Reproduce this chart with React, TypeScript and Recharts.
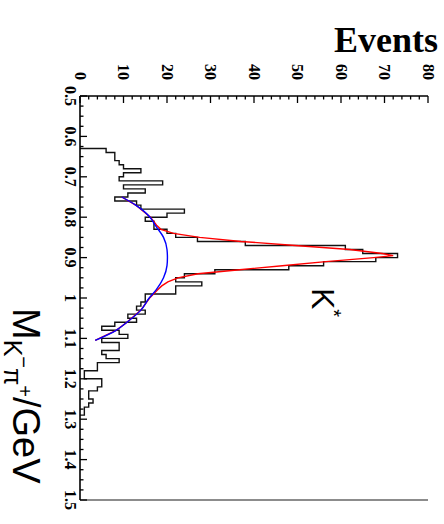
import { ComposedChart, Customized, Line, ReferenceLine, XAxis, YAxis } from 'recharts'

// K pi invariant mass, 10 MeV bins (lower edges) and entries per bin
const binLow = [
  0.63, 0.64, 0.65, 0.66, 0.67, 0.68, 0.69, 0.7, 0.71, 0.72, 0.73, 0.74, 0.75, 0.76, 0.77, 0.78,
  0.79, 0.8, 0.81, 0.82, 0.83, 0.84, 0.85, 0.86, 0.87, 0.88, 0.89, 0.9, 0.91, 0.92, 0.93, 0.94,
  0.95, 0.96, 0.97, 0.98, 0.99, 1.0, 1.01, 1.02, 1.03, 1.04, 1.05, 1.06, 1.07, 1.08, 1.09, 1.1,
  1.11, 1.12, 1.13, 1.14, 1.15, 1.16, 1.17, 1.18, 1.19, 1.2, 1.21, 1.22, 1.23, 1.24, 1.25, 1.26,
  1.27, 1.28, 1.29,
]
const binCount = [
  6, 8, 8, 9, 10, 14, 10, 9, 19, 10, 15, 11, 8, 13, 14, 24,
  20, 15, 17, 17, 20, 22, 27, 38, 61, 65, 73, 68, 56, 48, 31, 24,
  22, 28, 22, 22, 15, 15, 14, 13, 15, 11, 13, 8, 5, 9, 11, 5,
  9, 9, 5, 6, 9, 4, 4, 1, 1, 5, 5, 4, 2, 2, 3, 2,
  1, 1, 0,
]

// fitted background (polynomial) and total fit (background + K* signal)
const bgMass = [0.75, 0.77, 0.8, 0.82, 0.85, 0.88, 0.9, 0.92, 0.95, 0.98, 1.0, 1.03, 1.06, 1.08, 1.105]
const bgFit = [9.6, 12.8, 16.1, 17.3, 19.2, 20.0, 20.1, 20.0, 19.2, 17.5, 15.9, 14.0, 10.8, 8.3, 3.5]

const sumMass = [
  0.75, 0.77, 0.8, 0.82, 0.83, 0.84, 0.85, 0.86, 0.87, 0.88, 0.89, 0.895, 0.9, 0.91, 0.92, 0.93,
  0.94, 0.95, 0.96, 0.97, 0.98, 1.0, 1.03, 1.06, 1.08, 1.105,
]
const sumFit = [
  9.6, 12.8, 16.2, 17.6, 18.6, 21.5, 27.5, 37, 49.5, 62, 69.5, 72, 67.5, 56.5, 46.5, 36.7,
  27.1, 22.5, 20.2, 18.8, 17.8, 16.0, 14.0, 10.8, 8.3, 3.5,
]

const massMajor = [0.5, 0.6, 0.7, 0.8, 0.9, 1.0, 1.1, 1.2, 1.3, 1.4, 1.5]
const massLabels = ['0.5', '0.6', '0.7', '0.8', '0.9', '1', '1.1', '1.2', '1.3', '1.4', '1.5']
const eventMajor = [0, 10, 20, 30, 40, 50, 60, 70, 80]
const eventLabels = ['0', '10', '20', '30', '40', '50', '60', '70', '80']

const massTicks: number[] = []
for (let i = 0; i <= 40; i++) massTicks.push(Math.round((0.5 + i * 0.025) * 1000) / 1000)
const eventTicks: number[] = []
for (let i = 0; i <= 40; i++) eventTicks.push(i * 2)

const histData = [
  { m: binLow[0], n: 0 },
  ...binLow.map((m, i) => ({ m, n: binCount[i] })),
]
const bgData = bgMass.map((m, i) => ({ m, n: bgFit[i] }))
const sumData = sumMass.map((m, i) => ({ m, n: sumFit[i] }))

const serif = '"Liberation Serif", "Times New Roman", serif'
const sans = '"Liberation Sans", Arial, sans-serif'

function MassTick(props: any) {
  const { x, y, payload } = props
  const k = massMajor.findIndex((v) => Math.abs(v - payload.value) < 1e-6)
  return (
    <g>
      <line x1={x} x2={x} y1={y} y2={y - (k >= 0 ? 7 : 3.5)} stroke="#000" strokeWidth={1.3} />
      {k >= 0 && (
        <text x={x} y={y + 15} textAnchor="middle" fontFamily={serif} fontWeight="bold" fontSize={16} fill="#000">
          {massLabels[k]}
        </text>
      )}
    </g>
  )
}

function EventTick(props: any) {
  const { x, y, payload } = props
  const k = eventMajor.indexOf(payload.value)
  return (
    <g>
      <line x1={x} x2={x + (k >= 0 ? 7 : 3.5)} y1={y} y2={y} stroke="#000" strokeWidth={1.3} />
      {k >= 0 && (
        <text x={x - 16} y={y + 5.5} textAnchor="end" fontFamily={serif} fontWeight="bold" fontSize={16} fill="#000">
          {eventLabels[k]}
        </text>
      )}
    </g>
  )
}

function Titles() {
  return (
    <g>
      <text x={288} y={132} fontFamily={sans} fontSize={32} fill="#000">
        K<tspan dy={-15} fontSize={20}>*</tspan>
      </text>
      <text x={308} y={431} fontFamily={sans} fontSize={38} fill="#000">
        M
        <tspan dy={9} fontSize={25}>K</tspan>
        <tspan dy={-13} fontSize={20}>−</tspan>
        <tspan dy={13} fontSize={25}>π</tspan>
        <tspan dy={-14} fontSize={20}>+</tspan>
        <tspan dy={5}>/GeV</tspan>
      </text>
    </g>
  )
}

export default function App() {
  return (
    <div style={{ position: 'absolute', left: 0, top: 0, width: 444, height: 524, background: '#fff', overflow: 'hidden' }}>
      {/* the histogram is laid out with mass along x, then turned a quarter clockwise */}
      <div
        style={{
          position: 'absolute',
          left: 0,
          top: 0,
          width: 524,
          height: 444,
          transformOrigin: '0 0',
          transform: 'translateX(444px) rotate(90deg)',
        }}
      >
        <ComposedChart width={524} height={444} margin={{ top: 16, right: 24, bottom: 79, left: 95 }}>
          <XAxis
            dataKey="m"
            type="number"
            domain={[0.5, 1.5]}
            ticks={massTicks}
            interval={0}
            height={1}
            tickSize={0}
            tickMargin={0}
            tick={<MassTick />}
            axisLine={{ stroke: '#000', strokeWidth: 1.6 }}
            allowDataOverflow
          />
          <YAxis
            type="number"
            domain={[0, 80]}
            ticks={eventTicks}
            interval={0}
            width={1}
            tickSize={0}
            tickMargin={0}
            tick={<EventTick />}
            axisLine={{ stroke: '#000', strokeWidth: 1.6 }}
            allowDataOverflow
          />
          <ReferenceLine x={1.5} stroke="#666" strokeWidth={1.6} />
          <Line data={histData} dataKey="n" type="stepAfter" stroke="#111" strokeWidth={1.4} dot={false} isAnimationActive={false} />
          <Line data={sumData} dataKey="n" type="linear" stroke="#ff0000" strokeWidth={1.4} dot={false} isAnimationActive={false} />
          <Line data={bgData} dataKey="n" type="monotone" stroke="#0000ff" strokeWidth={1.4} dot={false} isAnimationActive={false} />
          <Customized component={Titles} />
        </ComposedChart>
      </div>
      <div
        style={{
          position: 'absolute',
          left: 280,
          top: 22,
          width: 158,
          textAlign: 'right',
          fontFamily: serif,
          fontWeight: 'bold',
          fontSize: 36,
          lineHeight: '36px',
        }}
      >
        Events
      </div>
    </div>
  )
}
